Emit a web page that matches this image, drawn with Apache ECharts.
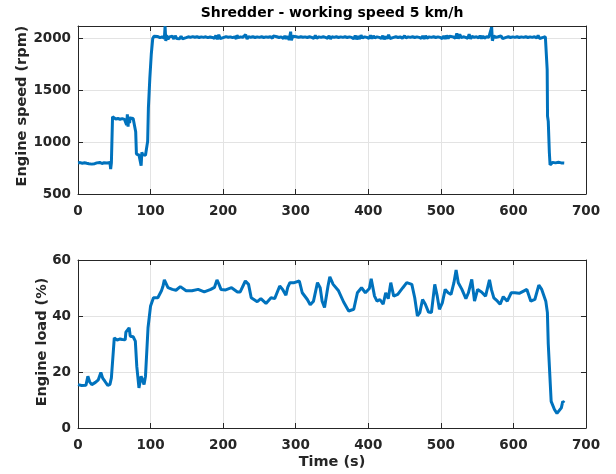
<!DOCTYPE html>
<html><head><meta charset="utf-8">
<script src="https://cdn.jsdelivr.net/npm/echarts@6/dist/echarts.min.js"></script>
<style>html,body{margin:0;padding:0;background:#fff}#c{width:616px;height:474px}</style>
</head><body><div id="c"></div><script>
const titleText = 'Shredder - working speed 5 km/h';
const xLabel = 'Time (s)';
const speedLabel = 'Engine speed (rpm)';
const loadLabel = 'Engine load (%)';
const timeTicks = [0, 100, 200, 300, 400, 500, 600, 700];
const speedTicks = [500, 1000, 1500, 2000];
const loadTicks = [0, 20, 40, 60];

const speedTime = [0,3,6,9,12,14,15,17,19,21,23,26,28,30,33,36,38,40,42,44,45,46,47,
47.6,49,52,55,58,61,64,66,67,68,69,70,71,72,74,76,78,
79.5,80.5,82,84,86,87,88,89,91,93,95,96,97,99,101,103,104.5,
107,110,113,116,119,120,121,122,124,126,128,130,132,134,136,138,140,142,144,146,149,152,155,158,161,164,167,170,173,176,179,182,185,188,190,192,194,196,198,
201,204,207,210,213,216,218,219,221,224,227,229,231,233,235,238,241,244,247,250,253,256,259,262,265,268,269,271,274,277,280,283,285,287,289,291,293,294,296,298,
301,304,307,310,313,316,319,322,325,327,329,332,335,338,341,344,346,348,350,353,356,359,362,365,368,371,374,377,380,382,384,386,388,390,392,395,398,
401,403,405,407,409,412,415,418,420,422,424,426,428,430,432,435,438,441,444,447,450,452,455,458,461,464,467,470,473,475,477,479,481,484,487,490,493,496,499,
502,504,506,508,510,512,514,517,520,522,524,526,528,531,534,537,539,541,543,546,549,552,554,556,558,560,563,566,568,570,571,573,576,579,581,583,585,587,590,593,596,599,
602,605,608,611,614,617,620,623,626,629,632,634,636,638,641,644,645.5,646.5,647,648,649.5,650.5,652,654,656,658,660,662,664,666,668,670];
const speedRpm = [800,803,797,801,796,812,792,800,788,806,792,800,786,804,794,801,789,800,797,803,740,800,806,
1245,1232,1224,1228,1221,1227,1220,1232,1165,1268,1150,1245,1185,1232,1224,1228,1221,
1100,885,872,876,866,772,902,880,868,874,870,1010,1330,1620,1850,2000,2020,
2012,2018,2008,2015,2002,2118,1975,2030,1992,2015,2003,2022,1995,2026,2000,2018,1998,2020,1996,2015,2008,2016,2010,2017,2011,2016,2009,2015,2010,2016,2008,2014,2010,2002,2028,1992,2035,1998,2016,
2010,2017,2011,2015,2008,2016,1995,2030,2008,2015,2010,1998,2036,1995,2018,2011,2016,2009,2015,2010,2016,2009,2015,2011,2016,2002,2025,2010,2016,2009,2015,2000,2024,1996,2020,1985,2065,1982,2022,2008,
2016,2010,2016,2011,2015,2009,2016,2010,2000,2028,2002,2015,2010,2016,2010,2002,2025,1995,2016,2010,2016,2009,2015,2010,2016,2009,2015,2010,1996,2028,1992,2022,1995,2030,2005,2015,2010,
2000,2030,1998,2025,2005,2015,2010,2000,2026,1992,2020,1996,2035,2000,2016,2010,2016,2009,2015,2002,2025,2005,2015,2010,2016,2009,2015,2010,2002,2024,1995,2026,2003,2015,2010,2016,2009,2015,2010,
1998,2025,1995,2028,2000,2022,2008,2015,2002,2048,1998,2040,2008,2016,2010,2002,2040,1996,2020,2010,2016,2005,2026,1998,2024,2002,2016,2010,1995,2110,1978,2025,2010,2016,2000,2025,1998,2016,2010,2016,2009,2015,
2010,2016,2009,2015,2010,2016,2009,2015,2010,2016,2005,2028,2000,2015,2010,2016,2012,1700,1250,1200,900,780,792,805,788,800,795,806,792,800,803,798];

const loadTime = [0,5,11,13.6,16,19,24,28,31.5,34,37,41,44,46,48,50,54,58,61,65,66,68,70.5,72,76,79,81,84,87,89.5,91,93,96.5,100,104,110,115,117,119,121,124,130,135,141,149,157,165.5,174,183,188,191.5,194,197,203.5,211.6,219.7,223.5,230.6,235,238.7,247,252,259,266,271,278,282,286.5,289,292,298,305,309,316,320,324.5,330,333.7,336.4,339.7,344.5,347,351.6,359,366,373,380,385,390.7,396,401.5,404,408.6,412,416,420.5,424,427.5,431,435,440.6,447.6,453,460,464,467.7,471,474.8,478.6,483,487,491.6,495,498,502,506,510,514,518,521,524,529,534.5,538,542.6,546.4,550.7,556,561.6,564,567,569.6,573,578,581.7,586,591.5,597,602,608,614,618.5,624,629.5,635,639,644.6,646.8,648,650,652,656.5,660,662,666,668,670];
const loadPct = [15.5,15.2,15.3,18.5,16.5,15.5,16.3,17.2,19.8,17.8,16.7,15.2,15.6,17.9,25,32.2,31.4,31.8,31.6,31.5,34.2,33.5,35.8,32.8,32.6,31,22,14.3,18.5,18.3,15.5,18.5,35.8,43.6,46.5,46.5,49,50.5,52.9,52.8,50.1,49.5,49.2,50.5,49,49,49.5,48.6,49.5,50.2,52.9,51.5,49.5,49.3,50.1,48.6,48.6,52.5,51.3,46.5,45.1,46.2,44.5,46.5,46.2,50.7,49.5,47.4,50.2,51.9,51.9,52.5,48.3,45.9,44,45.3,51.9,50.1,45.3,43,50.7,54,51.3,49,45,41.8,42.4,48.3,50.1,48.3,49.8,53.3,47.1,45.3,45.9,44.2,48.3,46.2,51.9,47.1,47.7,50.1,51.9,51.3,46.5,40,41.2,45.9,44.2,41.4,41.2,51.3,47.1,42.4,44.7,49.5,48.3,47.7,51.9,56.4,51.9,49.5,46.2,48.3,53.1,45.3,49.5,48.6,47.1,47.7,52.9,49.5,46.5,45.3,44.2,46.9,45.3,48.3,48.3,48.1,48.9,49.5,45.3,45.9,51,49.5,45.3,41.2,30,19.7,9.5,6.6,5.2,5.4,7.2,9.5,9];

const speedData = speedTime.map((t, i) => [t, speedRpm[i]]);
const loadData = loadTime.map((t, i) => [t, loadPct[i]]);

const txt = '#262626';
const fam = 'DejaVu Sans';
const grids = [
  {left: 78, right: 30, top: 26, height: 168},
  {left: 78, right: 30, top: 260, height: 168}
];
function xAx(gi, pos, labels) {
  return {type: 'value', gridIndex: gi, position: pos, min: timeTicks[0], max: timeTicks[timeTicks.length - 1], interval: 100,
    axisLine: {show: true, onZero: false, lineStyle: {color: txt, width: 1}},
    axisTick: {show: true, inside: true, length: 5, lineStyle: {color: txt}},
    axisLabel: {show: labels, color: txt, fontFamily: fam, fontWeight: 'bold', fontSize: 13.5, margin: 10, formatter: v => String(v)},
    splitLine: {show: labels, lineStyle: {color: '#e3e3e3', width: 1}}};
}
function yAx(gi, pos, labels, mn, mx, iv) {
  return {type: 'value', gridIndex: gi, position: pos, min: mn, max: mx, interval: iv,
    axisLine: {show: true, onZero: false, lineStyle: {color: txt, width: 1}},
    axisTick: {show: true, inside: true, length: 5, lineStyle: {color: txt}},
    axisLabel: {show: labels, color: txt, fontFamily: fam, fontWeight: 'bold', fontSize: 13.5, margin: 7, formatter: v => String(v)},
    splitLine: {show: labels, lineStyle: {color: '#e3e3e3', width: 1}}};
}
const chart = echarts.init(document.getElementById('c'), null, {renderer: 'canvas'});
chart.setOption({
  animation: false,
  backgroundColor: '#fff',
  grid: grids,
  xAxis: [xAx(0, 'bottom', true), xAx(1, 'bottom', true), xAx(0, 'top', false), xAx(1, 'top', false)],
  yAxis: [yAx(0, 'left', true, speedTicks[0], 2120, 500), yAx(1, 'left', true, loadTicks[0], loadTicks[loadTicks.length - 1], 20),
          yAx(0, 'right', false, speedTicks[0], 2120, 500), yAx(1, 'right', false, loadTicks[0], loadTicks[loadTicks.length - 1], 20)],
  series: [
    {type: 'line', xAxisIndex: 0, yAxisIndex: 0, data: speedData, showSymbol: false, clip: true,
     lineStyle: {color: '#0072BD', width: 3}, z: 5},
    {type: 'line', xAxisIndex: 1, yAxisIndex: 1, data: loadData, showSymbol: false, clip: true,
     lineStyle: {color: '#0072BD', width: 3}, z: 5}
  ],
  graphic: [
    {type: 'text', x: 332, y: 13, style: {text: titleText, fill: '#000', font: 'bold 14px "DejaVu Sans"', textAlign: 'center', textVerticalAlign: 'middle'}},
    {type: 'text', x: 22, y: 106, rotation: Math.PI / 2, style: {text: speedLabel, fill: txt, font: 'bold 14.5px "DejaVu Sans"', textAlign: 'center', textVerticalAlign: 'middle'}},
    {type: 'text', x: 42, y: 342, rotation: Math.PI / 2, style: {text: loadLabel, fill: txt, font: 'bold 14.5px "DejaVu Sans"', textAlign: 'center', textVerticalAlign: 'middle'}},
    {type: 'text', x: 332, y: 462, style: {text: xLabel, fill: txt, font: 'bold 14.5px "DejaVu Sans"', textAlign: 'center', textVerticalAlign: 'middle'}}
  ]
});
</script></body></html>
